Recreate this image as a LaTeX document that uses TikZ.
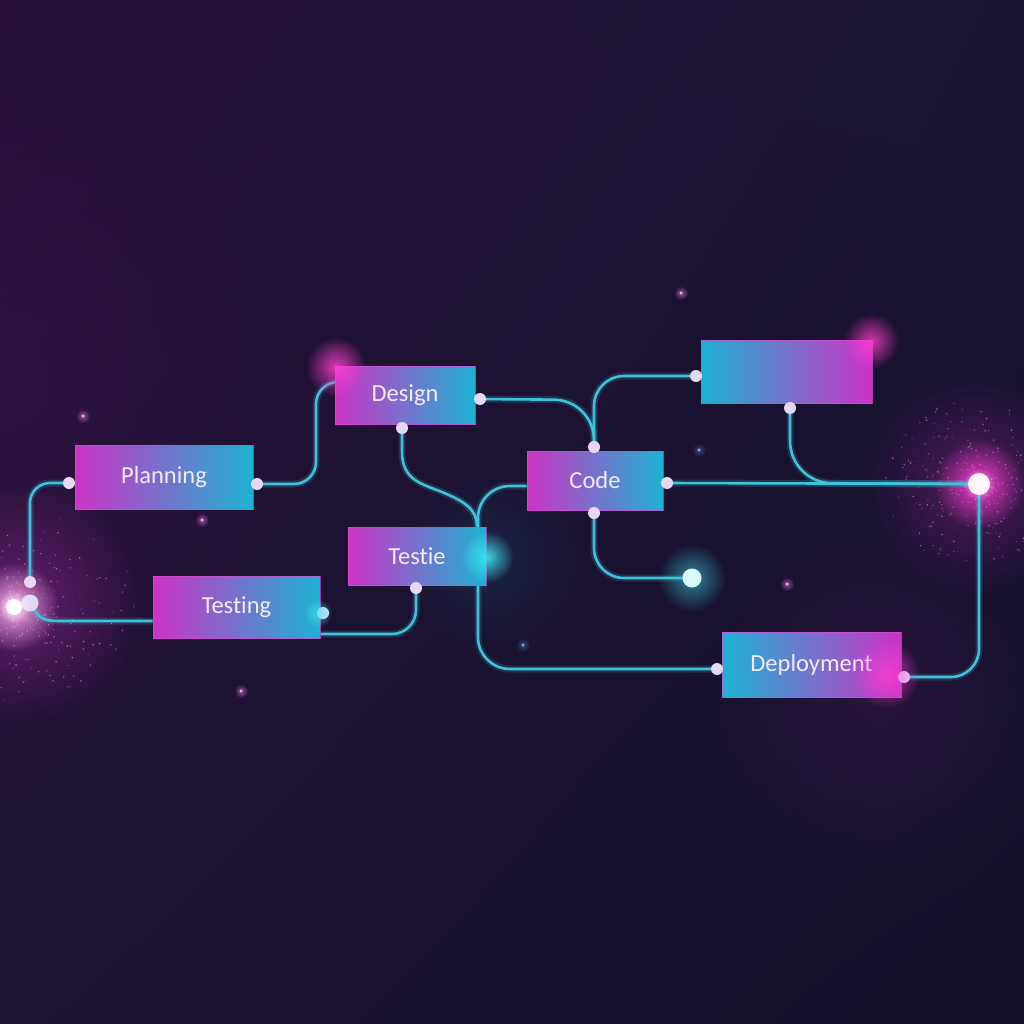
\documentclass[tikz,border=0pt]{standalone}
\usepackage{fontspec}
\newfontfamily\labfont[Ligatures=NoCommon]{Carlito}
\usetikzlibrary{fadings,shadings}
\definecolor{bgTL}{HTML}{28123A}
\definecolor{bgTR}{HTML}{191331}
\definecolor{bgBL}{HTML}{1C1231}
\definecolor{bgBR}{HTML}{121029}
\definecolor{wirec}{HTML}{3EC3DB}
\definecolor{magc}{HTML}{CC33C6}
\definecolor{midc}{HTML}{7052B6}
\definecolor{cyac}{HTML}{1DB2D2}
\definecolor{portc}{HTML}{E6D8F2}
\definecolor{txtc}{HTML}{F4EAF9}
\definecolor{glowm}{HTML}{FF3FD2}
\definecolor{glowc}{HTML}{3FE6F2}
\definecolor{partc}{HTML}{E87BE0}
\definecolor{edgec}{HTML}{D94BD6}
\tikzfading[name=glowfade, inner color=transparent!0, outer color=transparent!100]
\pgfdeclarelayer{bglayer}
\pgfdeclarelayer{wirelayer}
\pgfdeclarelayer{front}
\pgfsetlayers{bglayer,wirelayer,main,front}
\begin{document}
\begin{tikzpicture}[x=1pt,y=-1pt,
  box/.style={rectangle, inner sep=0pt, draw=edgec, draw opacity=0.7, line width=0.8pt,
    text=txtc, font=\labfont\fontsize{24.5}{26}\selectfont},
  magcy/.style={left color=magc, middle color=midc, right color=cyac},
  cymag/.style={left color=cyac, middle color=midc, right color=magc},
  port/.style={circle, inner sep=0pt, minimum size=#1, fill=portc},
  port/.default=12pt,
  wire/.style={draw=wirec, line width=2.6pt, rounded corners=#1,
    preaction={draw=wirec, line width=7pt, draw opacity=0.18}},
  wire/.default=28pt,
  curvewire/.style={draw=wirec, line width=2.6pt, sharp corners,
    preaction={draw=wirec, line width=7pt, draw opacity=0.18}},
  glow/.style={fill=#1, path fading=glowfade}]
\useasboundingbox (0,0) rectangle (1024,1024);

% ---------- boxes ----------
\node[box, magcy, minimum width=178pt, minimum height=64pt] (planning) at (164,477) {Planning};
\node[box, magcy, minimum width=140pt, minimum height=58pt] (design) at (405,395) {Design};
\node[box, magcy, minimum width=138pt, minimum height=58pt] (testie) at (417,556) {Testie};
\node[box, magcy, minimum width=167pt, minimum height=62pt] (testing) at (236.5,607) {Testing};
\node[box, magcy, minimum width=136pt, minimum height=59pt] (code) at (595,480.5) {Code};
\node[box, cymag, minimum width=171pt, minimum height=63pt] (blank) at (786.5,371.5) {};
\node[box, cymag, minimum width=179pt, minimum height=65pt] (deploy) at (811.5,664.5) {Deployment};

% ---------- ports ----------
\node[port] (plw) at (69,483) {};
\node[port] (ple) at (257,484) {};
\node[port] (dee) at (480,399) {};
\node[port] (des) at (402,428) {};
\node[port] (tes) at (416,588) {};
\node[port] (tge) at (323,613) {};
\node[port] (con) at (594,447) {};
\node[port] (coe) at (667,483) {};
\node[port] (cos) at (594,513) {};
\node[port] (blw) at (696,376) {};
\node[port] (bls) at (790,408) {};
\node[port] (dpw) at (717,669) {};
\node[port] (dpe) at (904,677) {};
\node[port=19pt, fill=white!80!glowc] (enddot) at (692,578) {};
\node[port=22pt, fill=white!92!glowm] (hub) at (979,484) {};
\node[port=12pt] (lw1) at (30,582) {};
\node[port=17pt] (lb) at (30,603) {};
\node[port=16pt, fill=white] (lglow) at (14,607) {};

% ---------- background ----------
\begin{pgfonlayer}{bglayer}
\shade[upper left=bgTL, upper right=bgTR, lower left=bgBL, lower right=bgBR] (0,0) rectangle (1024,1024);
\fill[glow=bgTL!70!magc, opacity=0.22] (0,380) circle (320pt);
\fill[glow=magc, opacity=0.10] (880,700) circle (170pt);
\fill[glow=cyac, opacity=0.12] (490,560) circle (90pt);
\fill[glow=magc, opacity=0.38] (20,605) circle (125pt);
\fill[glow=magc, opacity=0.32] (975,485) circle (110pt);
% particles
\pgfmathsetseed{7}
\foreach \i in {1,...,480}{
  \pgfmathsetmacro\ang{360*rnd}
  \pgfmathsetmacro\rr{rnd}
  \pgfmathsetmacro\px{14+130*\rr*\rr*cos(\ang)}
  \pgfmathsetmacro\py{607+95*\rr*\rr*sin(\ang)}
  \pgfmathsetmacro\op{0.25+0.6*rnd}
  \fill[partc, opacity=\op] (\px,\py) circle (0.8pt);
}
\foreach \i in {1,...,460}{
  \pgfmathsetmacro\ang{360*rnd}
  \pgfmathsetmacro\rr{rnd}
  \pgfmathsetmacro\px{979+95*\rr*\rr*cos(\ang)}
  \pgfmathsetmacro\py{484+85*\rr*\rr*sin(\ang)}
  \pgfmathsetmacro\op{0.25+0.6*rnd}
  \fill[partc, opacity=\op] (\px,\py) circle (0.8pt);
}
% stars
\foreach \sx/\sy/\sc in {83/416/partc, 202/520/partc, 241/691/partc, 681/293/partc, 699/450/violet!40!cyac, 787/584/partc, 523/645/violet!40!cyac}{
  \fill[glow=\sc, opacity=0.6] (\sx,\sy) circle (7pt);
  \fill[\sc!60!white] (\sx,\sy) circle (1.6pt);
}
% glows under nodes
\fill[glow=glowc, opacity=0.55] (692,578) circle (34pt);
\fill[glow=glowm, opacity=0.9] (979,484) circle (45pt);
\fill[glow=white!60!glowm, opacity=0.95] (14,607) circle (44pt);
\end{pgfonlayer}

% ---------- wires ----------
\begin{pgfonlayer}{wirelayer}
\draw[wire=22pt] (ple.center) -- (316,484) -- (316,382) -- (design.west |- 0,382);
\draw[wire=20pt] (plw.center) -- (30,483) -- (lw1.center);
\draw[curvewire] (lb.center) .. controls (40,621) and (44,621) .. (64,621) -- (testing.west |- 0,621);
\draw[wire=24pt] (testing.east |- 0,634) -- (416,634) -- (tes.center);
\draw[curvewire] (des.center) -- (402,452) .. controls (402,480) and (422,484) .. (442,492)
      .. controls (466,502) and (477,510) .. (testie.north -| 477,0);
\draw[wire=32pt] (code.west |- 0,486) -- (478,486) -- (478,669) -- (dpw.center);
\draw[wire=40pt] (dee.center) -- (594,400) -- (con.center);
\draw[wire=30pt] (con.center) -- (594,376) -- (blw.center);
\draw[wire] (coe.center) -- (hub.center);
\draw[wire=42pt] (bls.center) -- (790,483) -- (hub.center);
\draw[wire=30pt] (cos.center) -- (594,578) -- (enddot.center);
\draw[wire=28pt] (hub.center) -- (979,677) -- (dpe.center);
\end{pgfonlayer}

% ---------- front glows ----------
\begin{pgfonlayer}{front}
\fill[glow=glowm, opacity=0.85] (336,367) circle (30pt);
\fill[glow=glowm, opacity=0.8] (871,341) circle (28pt);
\fill[glow=glowm, opacity=0.75] (886,674) circle (34pt);
\fill[glow=glowc, opacity=0.9] (487,557) circle (26pt);
\fill[glow=glowc, opacity=0.7] (318,613) circle (14pt);
\fill[glow=white, opacity=0.8] (14,607) circle (16pt);
\fill[glow=white, opacity=0.6] (979,484) circle (16pt);
\end{pgfonlayer}
\end{tikzpicture}
\end{document}
